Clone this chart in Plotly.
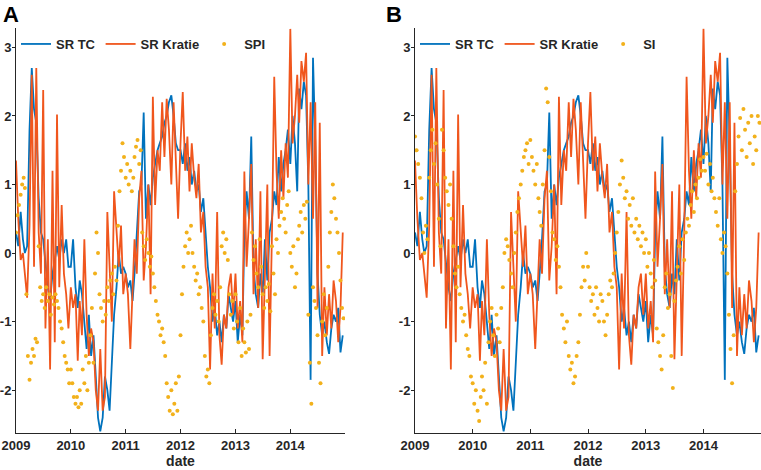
import plotly.graph_objects as go
from plotly.subplots import make_subplots

# dates: lines sampled twice a month, indices three times a month
years = list(range(2009, 2015))
line_dates = [f"{y}-{m:02d}-{d:02d}" for y in years for m in range(1, 13) for d in (1, 16)]
dot_dates = [f"{y}-{m:02d}-{d:02d}" for y in years for m in range(1, 13) for d in (1, 11, 21)]

sr_tc = [
    0.3, 0.1, 0.6, 0.2, 0.0, 0.1, 1.8, 2.7, 2.1, 1.9, 0.8, 0.3, 0.2, -0.2, -0.5, -0.7, -0.3, -0.1, 0.1, -0.1, 0.2, 0.0, 0.2, -0.2,
    -0.2, 0.2, -0.5, -0.8, -0.4, -0.6, -1.0, -1.4, -0.9, -1.5, -1.2, -1.9, -2.4, -2.6, -2.4, -1.8, -2.0, -2.3, -1.6, -0.9, -0.5, 0.0, -0.3, -0.2,
    -0.3, -0.5, -0.4, -0.7, -0.3, 0.2, 0.9, 1.0, 2.05, 0.5, 1.0, 0.7, 1.1, 1.3, 1.5, 1.6, 1.7, 1.9, 2.0, 2.2, 2.3, 2.0, 1.6, 1.5,
    1.5, 1.3, 1.6, 1.2, 1.4, 1.0, 1.2, 0.9, 1.0, 0.6, 0.8, 0.3, -0.2, -0.5, -1.0, -0.8, -1.2, -1.0, -1.3, -0.9, -1.1, -0.6, -0.8, -1.0,
    -0.7, -1.3, -0.9, -1.2, 0.3, 0.9, 0.5, 1.7, -0.2, -0.6, -0.8, -0.3, -0.6, 0.2, -0.4, 0.3, 0.5, 0.9, 0.7, 1.4, 0.9, 1.3, 1.5, 1.8,
    1.3, 2.0, 1.6, 0.9, 2.4, 2.1, 2.5, 2.3, 1.0, -1.85, 2.85, 1.6, -0.3, -0.9, -1.2, -1.0, -1.3, -1.47, -1.1, -0.9, -1.0, -0.8, -1.45, -1.2,
]

sr_kratie = [
    1.35, 0.5, -0.1, 0.0, -0.3, -0.65, 0.4, 2.6, -0.2, 2.7, 0.3, -0.3, 2.38, -1.1, 0.2, -1.7, 1.2, -1.3, 2.02, -0.5, 0.7, -0.3, -0.6, -1.1,
    -0.5, -0.8, -0.6, -1.57, -0.7, -1.2, 0.2, -0.9, -1.5, -1.1, -1.3, -2.0, -2.3, -1.4, -2.3, -2.1, 0.6, -0.3, -1.0, 0.9, 0.3, -0.2, 0.4, -0.6,
    -0.3, -0.6, -1.4, -0.5, 0.2, -0.3, 0.8, 1.2, -0.4, 0.1, 1.0, -0.6, 2.28, 0.7, 1.5, 1.2, 2.2, 1.4, 2.25, 1.8, 1.0, 2.2, 1.2, 0.5,
    1.6, 2.35, 1.2, 1.7, 0.9, 1.6, 1.1, 0.8, 1.3, 0.3, 0.6, -0.2, -0.5, -1.7, -0.3, -1.1, 0.6, -1.2, -1.63, -0.9, -1.1, -0.5, -0.3, -0.9,
    -0.3, -1.1, -0.7, -1.3, 1.19, -0.2, 0.5, 1.3, -0.6, 0.2, -0.8, 0.9, -1.55, -0.3, 1.0, -1.5, 0.3, 2.57, 1.2, 0.5, 1.5, 0.8, 1.6, 1.1,
    3.27, 1.6, 2.0, 2.6, 1.9, 2.8, 2.5, 2.92, 1.0, 2.2, 0.5, 2.2, -0.8, 1.9, -1.5, -0.5, -1.2, -0.6, -1.1, -0.4, -0.7, -1.3, -0.8, 0.3,
]

spi = [
    0.3, 0.55, 0.7, 0.85, 1.0, 1.1, 0.95, -0.6, -1.5, -1.85, -1.6, -1.4, -1.5, -1.25, -1.3, 0.1, -0.5, -0.7,
    -0.6, -0.8, -0.5, -0.7, -0.6, -0.9, -0.65, -0.75, -0.6, -0.7, -0.8, -1.0, -1.1, -1.3, -1.5, -1.6, -1.7, -1.9,
    -1.7, -1.9, -2.1, -2.2, -2.1, -2.25, -2.0, -2.2, -1.7, -1.9, -1.5, -2.0, -1.6, -1.2, -0.8, -1.6, -0.3, 0.3,
    0.0, -0.6, -0.8, -1.0, -0.7, -0.9, -0.5, -0.7, -0.4, -0.3, -0.6, -0.2, -0.4, 0.4, 0.9, 1.2, 1.6, 1.4,
    1.1, 1.3, 1.0, 1.2, 0.9, 1.1, 1.4, 1.55, 1.65, 1.3, 1.5, 0.3, 0.1, -0.1, 0.2, 0.0, -0.2, -0.05,
    -0.3, -0.5, -0.7, -0.9, -1.0, -1.2, -1.1, -1.3, -1.5, -1.9, -2.1, -2.3, -2.0, -2.35, -2.2, -1.9, -2.3, -1.8,
    -1.2, -0.6, -0.2, 0.1, 0.3, 0.0, 0.2, 0.4, 0.0, -0.2, -0.4, -0.3, -0.6, -0.5, -0.8, -1.0, -1.5, -1.8,
    -1.7, -1.9, -1.2, -0.8, -0.6, -0.9, -0.7, -1.0, -0.5, 0.1, 0.3, 0.0, 0.2, -0.1, -0.6, -0.9, -0.7, -1.1,
    -0.6, -1.0, -1.3, -0.8, -1.5, -1.1, -1.3, -1.45, -1.0, -1.4, -0.9, 0.3, -0.1, 0.1, -0.3, -0.5, 0.2, -0.2,
    -0.6, -0.8, -0.5, -0.7, -0.45, -0.85, 0.1, -0.3, -0.6, 0.2, 0.0, 0.4, 0.6, 0.8, 0.5, 0.3, 0.7, 0.9,
    0.0, -0.2, 0.1, -0.5, -0.3, 0.2, 0.4, 0.6, 0.3, 0.7, 0.5, 0.75, -0.9, -1.6, -2.2, -0.5, -0.7, -0.8,
    -1.2, -1.6, -1.9, -1.0, -0.6, -1.2, -0.8, -0.2, 0.3, 0.6, 1.0, 0.8, 0.5, 0.3, 0.0, -0.4, -0.8, -0.95,
]

si = [
    1.7, 1.5, 1.3, 1.1, 0.8, 0.3, 0.0, 0.4, 0.2, 1.1, 1.5, 1.8, 1.3, 1.6, 1.0, 0.5, 0.1, 1.8,
    1.5, 1.1, 0.9, 0.7, 1.0, 0.5, 0.1, -0.3, -0.5, -0.2, -0.6, -0.8, -1.0, -0.9, -1.2, -1.4, -1.5, -1.8,
    -1.9, -2.2, -2.0, -2.3, -2.45, -2.1, -1.8, -2.0, -1.6, -2.2, -1.3, -1.0, -0.8, -1.2, -1.5, -0.9, -1.1, -1.3,
    -0.8, -0.5, 0.0, 0.2, 0.1, -0.1, -0.3, -0.5, 0.0, 0.3, 0.6, 0.8, 1.0, 1.2, 1.4, 1.5, 1.6, 1.3,
    1.65, 1.4, 1.2, 1.0, 1.3, 0.8, 0.6, 0.4, 1.0, 1.5, 2.4, 2.2, 1.4, 0.9, 0.3, 0.2, -0.1, 0.1,
    -0.2, -0.5, -0.9, -1.1, -1.3, -1.0, -1.5, -1.7, -1.6, -1.9, -1.8, -1.5, -1.3, -0.9, -0.5, -0.2, -0.4, 0.0,
    -0.2, -0.5, -0.7, -0.6, -0.9, -0.5, -0.8, -1.0, -0.6, -0.7, -1.0, -1.2, -0.9, -0.6, -0.4, -0.5, -0.3, 0.0,
    0.3, 0.6, 1.0, 1.35, 1.1, 0.8, 0.9, 0.5, 0.7, 0.4, 0.8, 0.3, 0.5, 0.2, 0.4, 0.1, 0.3, 0.0,
    0.2, -0.2, 0.0, -0.3, -0.5, -0.1, -0.4, -1.1, -1.3, -1.5, -1.7, -1.2, -0.5, -0.3, -0.8, -0.6, -1.5, -1.97,
    -0.7, -0.4, -0.2, 0.1, -0.3, 0.2, -0.1, 0.3, 0.5, 0.4, 0.7, 0.9, 0.6, 1.0, 0.8, 1.1, 1.37, 1.2,
    1.4, 1.2, 1.45, 1.0, 1.3, 0.9, 1.1, 0.8, 0.6, 0.4, 0.8, 0.2, 0.0, 0.3, 0.1, -0.3, -0.9, -1.4,
    -1.9, -1.2, 0.9, 1.3, 1.7, 1.97, 1.5, 2.1, 1.8, 1.4, 1.9, 1.6, 2.0, 1.3, 1.7, 1.5, 2.0, 1.9,
]

panels = [("SPI", spi, "legend"), ("SI", si, "legend2")]
letters = ["A", "B"]

BLUE = "#0072BD"
ORANGE = "#F0561D"
YELLOW = "#F2B11B"
AXCOL = "#262626"
FONT = "Liberation Sans, Arial, sans-serif"

fig = make_subplots(rows=1, cols=2)

for i, (dot_name, dot_vals, leg) in enumerate(panels, start=1):
    fig.add_trace(go.Scatter(x=line_dates, y=sr_tc, mode="lines", name="SR TC",
                             line=dict(color=BLUE, width=1.8), legend=leg), row=1, col=i)
    fig.add_trace(go.Scatter(x=line_dates, y=sr_kratie, mode="lines", name="SR Kratie",
                             line=dict(color=ORANGE, width=1.8), legend=leg), row=1, col=i)
    fig.add_trace(go.Scatter(x=dot_dates, y=dot_vals, mode="markers", name=dot_name,
                             marker=dict(color=YELLOW, size=4), legend=leg), row=1, col=i)

year_ticks = [f"{y}-01-01" for y in years]
y_vals = [3, 2, 1, 0, -1, -2]
y_text = ["3", "2", "1", "0", "-1", "-2"]

fig.update_xaxes(range=["2009-01-01", "2014-12-31"], tickvals=year_ticks, ticktext=[str(y) for y in years],
                 ticks="inside", ticklen=4, tickcolor=AXCOL, showline=True, linecolor=AXCOL, linewidth=1,
                 showgrid=False, zeroline=False, automargin=False, title_text="date", title_standoff=2,
                 tickfont=dict(family=FONT, size=13, color="#262626", weight="bold"),
                 title_font=dict(family=FONT, size=14, color="#262626", weight="bold"))
fig.update_yaxes(range=[-2.63, 3.28], tickvals=y_vals, ticktext=y_text,
                 ticks="outside", ticklen=3, tickcolor=AXCOL, showline=True, linecolor=AXCOL, linewidth=1,
                 showgrid=False, zeroline=False, automargin=False, ticklabelstandoff=-2,
                 tickfont=dict(family=FONT, size=13, color="#262626", weight="bold"), domain=[0.078, 0.94])

fig.update_layout(xaxis=dict(domain=[16 / 761, 345 / 761]), xaxis2=dict(domain=[415 / 761, 1.0]))

leg_style = dict(orientation="h", yanchor="top", xanchor="left", bgcolor="rgba(0,0,0,0)",
                 font=dict(family=FONT, size=13, color="#262626", weight="bold"),
                 itemsizing="trace", tracegroupgap=0)
fig.update_layout(
    width=761, height=470,
    margin=dict(l=0, r=0, t=0, b=0),
    plot_bgcolor="white", paper_bgcolor="white",
    legend=dict(x=16 / 761, y=1 - 29 / 470, **leg_style),
    legend2=dict(x=415 / 761, y=1 - 29 / 470, **leg_style),
)

for letter, xpos in zip(letters, [1, 384]):
    fig.add_annotation(text=letter, x=xpos / 761, y=1.0, xref="paper", yref="paper",
                       xanchor="left", yanchor="top", showarrow=False,
                       font=dict(family=FONT, size=22, color="black", weight="bold"))

# the page body has a default margin; drop it so the figure sits at the window corner
fig.write_html("out.html", config={"displayModeBar": False},
               post_script="document.body.style.margin = '0px';")
